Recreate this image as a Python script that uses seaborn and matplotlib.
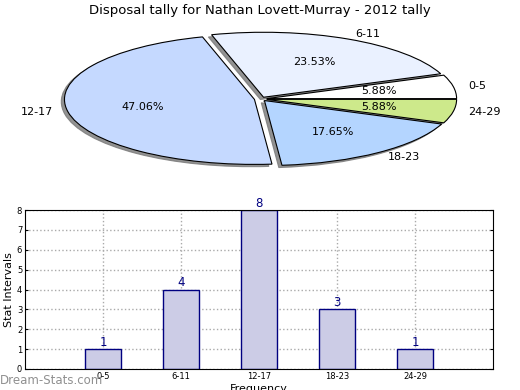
"""
Disposal tally chart: pie of interval shares plus bar chart of counts
"""
import pandas as pd
import matplotlib
matplotlib.use("Agg")
import matplotlib.pyplot as plt
import seaborn as sns

# chart data
intervals = ['0-5', '6-11', '12-17', '18-23', '24-29']
counts = [1, 4, 8, 3, 1]
pie_colors = ['#ffffff', '#eaf1ff', '#c5d9ff', '#b4d5ff', '#cde98b']

sns.set_style('white')
plt.rcParams['font.family'] = ['DejaVu Sans']
plt.rcParams['text.color'] = 'black'
plt.rcParams['axes.labelcolor'] = 'black'
plt.rcParams['xtick.color'] = 'black'
plt.rcParams['ytick.color'] = 'black'

df = pd.DataFrame({'interval': intervals, 'count': counts})

fig = plt.figure(figsize=(5.2, 3.9), dpi=100)

# pie, squashed into a wide axes
ax_pie = fig.add_axes([52 / 520, 219.5 / 390, 418 / 520, 143 / 390])
wedges, texts, autotexts = ax_pie.pie(
    df['count'], labels=df['interval'], colors=pie_colors,
    explode=[0.03, 0.03, 0.035, 0.03, 0.03], autopct='%.2f%%',
    shadow={'ox': -0.012, 'oy': -0.025, 'facecolor': '#777777',
            'edgecolor': '#777777', 'alpha': 0.8},
    startangle=0, labeldistance=1.08,
    wedgeprops={'edgecolor': 'black', 'linewidth': 0.8},
    textprops={'fontsize': 8, 'color': 'black'},
)
ax_pie.set_aspect('auto')
ax_pie.set_xlim(-1.1, 1.1)
ax_pie.set_ylim(-1.1, 1.1)
fig.text(0.5, 0.99, 'Disposal tally for Nathan Lovett-Murray - 2012 tally',
         ha='center', va='top', fontsize=9.5)

# bar chart
ax_bar = fig.add_axes([25 / 520, 21 / 390, 468 / 520, 159 / 390])
sns.barplot(data=df, x='interval', y='count', ax=ax_bar, color='#ccccE6',
            edgecolor='#000080', linewidth=1, width=0.46, saturation=1, zorder=2)
ax_bar.set_xlim(-1, 5)
ax_bar.set_ylim(0, 8)
ax_bar.set_yticks(range(0, 9))
ax_bar.grid(True, linestyle=':', color='#aaaaaa', linewidth=1)
for line in ax_bar.get_xgridlines() + ax_bar.get_ygridlines():
    line.set_zorder(3)
ax_bar.tick_params(axis='both', labelsize=6, direction='in', length=2,
                   left=True, right=True, bottom=False, pad=2)
for spine in ax_bar.spines.values():
    spine.set_visible(True)
    spine.set_color('black')
    spine.set_linewidth(0.8)
    spine.set_zorder(5)
ax_bar.set_xlabel('Frequency', fontsize=8, labelpad=2)
ax_bar.set_ylabel('Stat Intervals', fontsize=8, labelpad=2)

for i, c in enumerate(counts):
    ax_bar.text(i, c, str(c), ha='center', va='bottom', color='#000080',
                fontsize=8.5, zorder=6)

fig.text(0.0, 0.008, 'Dream-Stats.com', color='#909090', fontsize=8.5,
         ha='left', va='bottom')

fig.savefig('out.png', dpi=100)
